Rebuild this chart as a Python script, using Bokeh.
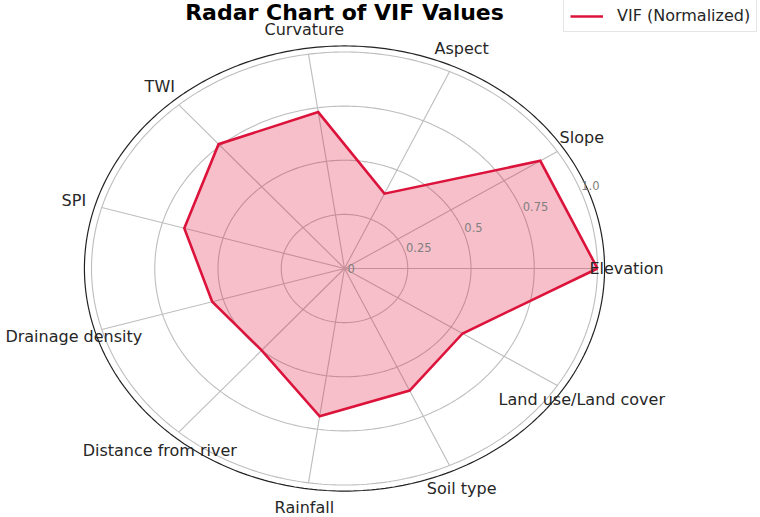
import numpy as np
from bokeh.plotting import figure
from bokeh.models import Range1d, Legend, LegendItem, Label
from bokeh.embed import file_html
from bokeh.resources import INLINE
from bokeh.core.properties import value

# ---- data ----
categories = ["Elevation", "Slope", "Aspect", "Curvature", "TWI", "SPI",
              "Drainage density", "Distance from river", "Rainfall",
              "Soil type", "Land use/Land cover"]
vif_normalized = [1.0, 0.92, 0.38, 0.73, 0.76, 0.66, 0.545, 0.50, 0.69, 0.62, 0.555]
r_ticks = [0, 0.25, 0.5, 0.75, 1.0]
r_tick_labels = ["0", "0.25", "0.5", "0.75", "1.0"]
series_name = "VIF (Normalized)"
title_text = "Radar Chart of VIF Values"

# ---- layout constants ----
W, H = 760, 517
R_SPINE = 1.028
R_LABEL = 1.115
RLABEL_ANGLE = np.deg2rad(22.5)
FONT = "DejaVu Sans"
CRIMSON = "#DC143C"

p = figure(width=W, height=H, output_backend="svg", toolbar_location=None,
           x_range=Range1d(-1.3597, 1.6443), y_range=Range1d(-1.1501, 1.2379),
           x_axis_location=None, y_axis_location=None, min_border=0,
           background_fill_color="white", border_fill_color="white")
p.grid.visible = False
p.outline_line_color = None

N = len(categories)
theta = np.array([2 * np.pi * i / N for i in range(N)])
t = np.linspace(0, 2 * np.pi, 361)

# grid rings
ring_xs = [list(r * np.cos(t)) for r in r_ticks[1:]]
ring_ys = [list(r * np.sin(t)) for r in r_ticks[1:]]
p.multi_line(ring_xs, ring_ys, line_color="#bdbdbd", line_width=1.1)

# spokes
spoke_xs = [[0, r_ticks[-1] * np.cos(a)] for a in theta]
spoke_ys = [[0, r_ticks[-1] * np.sin(a)] for a in theta]
p.multi_line(spoke_xs, spoke_ys, line_color="#bdbdbd", line_width=1.1)

# outer spine
p.line(list(R_SPINE * np.cos(t)), list(R_SPINE * np.sin(t)), line_color="#222222", line_width=1.2)

# data polygon
vals = np.array(vif_normalized)
px = vals * np.cos(theta)
py = vals * np.sin(theta)
p.patch(list(px), list(py), fill_color=CRIMSON, fill_alpha=0.27, line_color=None)
line_r = p.line(list(np.append(px, px[0])), list(np.append(py, py[0])),
                line_color=CRIMSON, line_width=2.6, line_join="miter")

# radial tick labels
rt = np.array(r_ticks)
p.text(x=list(rt * np.cos(RLABEL_ANGLE)), y=list(rt * np.sin(RLABEL_ANGLE)), text=r_tick_labels,
       text_align="left", text_baseline="middle", x_offset=3,
       text_font=value(FONT), text_font_size="11.5px", text_color="#808080")

# category labels
p.text(x=list(R_LABEL * np.cos(theta)), y=list(R_LABEL * np.sin(theta)), text=categories,
       text_align="center", text_baseline="middle",
       text_font=value(FONT), text_font_size="16px", text_color="#262626")

# title
p.add_layout(Label(x=344, y=H - 12, x_units="screen", y_units="screen", text=title_text,
                   text_align="center", text_baseline="middle", text_font=FONT,
                   text_font_size="22px", text_font_style="bold", text_color="black"))

# legend
legend = Legend(items=[LegendItem(label=series_name, renderers=[line_r])],
                location=(563, H - 32), padding=6, margin=0, spacing=0,
                glyph_width=33, glyph_height=14, label_standoff=14,
                label_text_font=FONT, label_text_font_size="16px", label_text_color="#262626",
                border_line_color="#cccccc", border_line_width=1,
                background_fill_color="white", background_fill_alpha=0.9)
p.add_layout(legend)

open("out.html", "w").write(file_html(p, INLINE))
